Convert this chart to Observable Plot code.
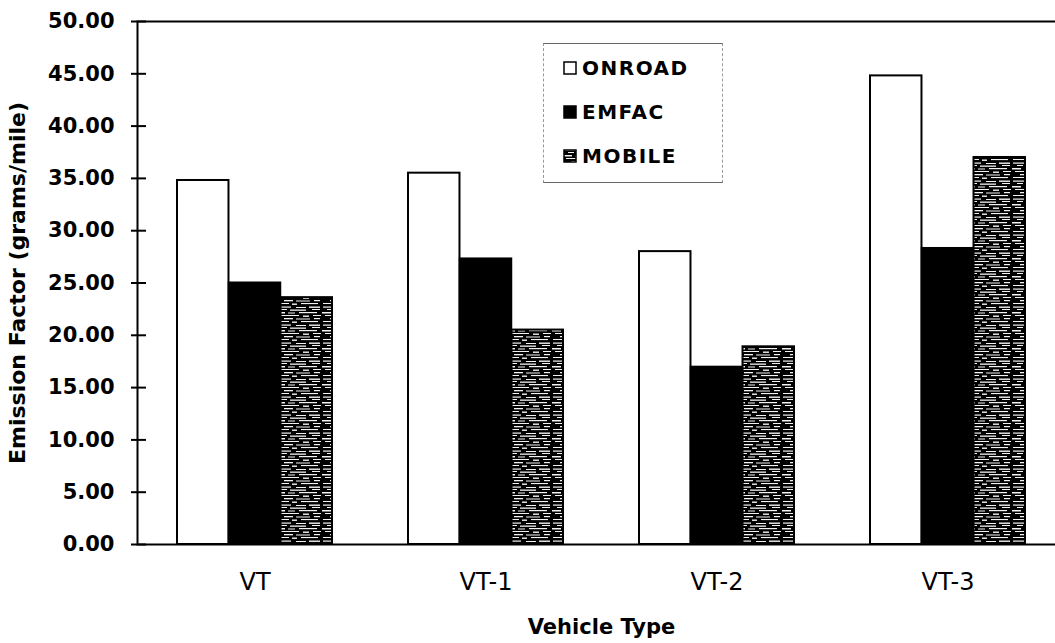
<!DOCTYPE html>
<html>
<head>
<meta charset="utf-8">
<script src="https://cdn.jsdelivr.net/npm/d3@7"></script>
<script src="https://cdn.jsdelivr.net/npm/@observablehq/plot@0.6"></script>
<style>
  body { margin: 0; background: #fff; }
  #wrap { position: relative; width: 1055px; height: 643px; overflow: hidden; background: #fff; }
  #legend {
    position: absolute; left: 543px; top: 43px; width: 180px; height: 140px;
    box-sizing: border-box; border: 1px solid #666; border-left: 1px dashed #999; border-right: 1px dashed #999;
    background: #fff; font-family: "DejaVu Sans", sans-serif; font-size: 20px; font-weight: bold; color: #000;
  }
  #legend .item { position: absolute; left: 19px; height: 24px; display: flex; align-items: center; letter-spacing: 1.5px; }
  #legend .item svg { margin-right: 5px; }
</style>
</head>
<body>
<div id="wrap">
  <div id="chart"></div>
  <div id="legend"></div>
</div>
<script>
// ---- data ----
const categories = ["VT", "VT-1", "VT-2", "VT-3"];
const seriesNames = ["ONROAD", "EMFAC", "MOBILE"];
const onroadValues = [34.8, 35.5, 28.0, 44.8];
const emfacValues = [25.0, 27.3, 16.95, 28.3];
const mobileValues = [23.6, 20.5, 18.9, 37.0];
const yTicks = [0, 5, 10, 15, 20, 25, 30, 35, 40, 45, 50];

// ---- table built from the arrays ----
const seriesValues = [onroadValues, emfacValues, mobileValues];
const rows = [];
seriesNames.forEach((s, i) => categories.forEach((c, j) => rows.push({category: c, series: s, value: seriesValues[i][j]})));

// ---- layout ----
const W = 1055, H = 643;
const mLeft = 137, mRight = -10, mTop = 21, mBottom = 99;
const padInner = 0.33, padOuter = 0.167;
const band = d3.scaleBand(categories, [mLeft, W - mRight]).paddingInner(padInner).paddingOuter(padOuter);
const third = band.bandwidth() / 3;

const fills = {ONROAD: "#fff", EMFAC: "#000", MOBILE: "url(#mobileTex)"};

const barMarks = seriesNames.map((s, i) =>
  Plot.barY(rows.filter(d => d.series === s), {
    x: "category", y: "value",
    fill: fills[s], stroke: "#000", strokeWidth: 2,
    insetLeft: i * third, insetRight: (2 - i) * third
  })
);

const chart = Plot.plot({
  width: W, height: H,
  marginLeft: mLeft, marginRight: mRight, marginTop: mTop, marginBottom: mBottom,
  style: {fontFamily: "DejaVu Sans, sans-serif", background: "#fff", color: "#000"},
  x: {domain: categories, paddingInner: padInner, paddingOuter: padOuter, axis: null},
  y: {domain: [0, 50], axis: null},
  marks: [
    ...barMarks,
    Plot.frame({stroke: "#000", strokeWidth: 2}),
    Plot.axisY(yTicks, {
      label: null,
      tickFormat: d => d.toFixed(2), tickSize: 15, dx: 9, tickPadding: 17,
      fontSize: 21, fontWeight: "bold", strokeWidth: 2, stroke: "#000", fill: "#000"
    }),
    Plot.text(categories, {x: d => d, frameAnchor: "bottom", dy: 38, lineAnchor: "middle", fontSize: 24, fill: "#000"}),
    Plot.text(["Vehicle Type"], {frameAnchor: "bottom", dy: 83, lineAnchor: "middle", fontSize: 21, fontWeight: "bold", fill: "#000"}),
    Plot.text(["Emission Factor (grams/mile)"], {frameAnchor: "left", dx: -120, rotate: -90, textAnchor: "middle", fontSize: 22, fontWeight: "bold", fill: "#000"})
  ]
});

// texture for MOBILE bars: black ground with white horizontal streaks
const svg = d3.select(chart);
const defs = svg.insert("defs", ":first-child");
const pat = defs.append("pattern").attr("id", "mobileTex").attr("patternUnits", "userSpaceOnUse")
  .attr("width", 46).attr("height", 18);
pat.append("rect").attr("width", 46).attr("height", 18).attr("fill", "#000");
[[1,0.5,14,1.2],[20,1,10,1],[33,0.5,11,1.4],[5,3,6,1],[14,3.5,16,1.3],[36,3,8,1],
 [0,6,9,1.5],[12,6.5,7,1],[23,6,18,1.2],[3,9,20,1],[27,9.5,6,1.4],[37,9,8,1],
 [8,12,9,1.3],[20,12.5,14,1],[38,12,6,1.2],[1,15,12,1],[16,15.5,5,1.4],[25,15,17,1.1]]
  .forEach(([x, y, w, h]) => pat.append("rect").attr("x", x).attr("y", y).attr("width", w).attr("height", h).attr("fill", "#f2f2f2"));

document.getElementById("chart").appendChild(chart);

// legend
const legend = d3.select("#legend");
seriesNames.forEach((s, i) => {
  const item = legend.append("div").attr("class", "item").style("top", (12 + i * 44) + "px");
  const sw = item.append("svg").attr("width", 14).attr("height", 14);
  sw.append("rect").attr("x", 1).attr("y", 1).attr("width", 12).attr("height", 12)
    .attr("fill", fills[s]).attr("stroke", "#000").attr("stroke-width", 1.5);
  item.append("span").text(s);
});
</script>
</body>
</html>
